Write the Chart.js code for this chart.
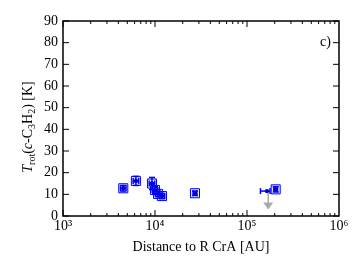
<!DOCTYPE html>
<html>
<head>
<meta charset="utf-8">
<script src="https://cdn.jsdelivr.net/npm/chart.js@4.4.0/dist/chart.umd.min.js"></script>
<style>
  body { margin: 0; background: #fff; }
</style>
</head>
<body>
<canvas id="tempChart" width="353" height="264"></canvas>
<script>
// data
var distance = [4520, 6200, 9270, 10000, 10800, 11900, 27200, 205000];
var temp     = [12.8, 16.2, 15.0, 12.0, 10.2, 9.2, 10.5, 12.3];
var tempErr  = [1.3, 2.1, 2.8, 1.5, 1.3, 1.2, 1.0, 1.2];
var distErr  = [0.03, 0.03, 0.03, 0.03, 0.03, 0.03, 0.02, 0.02]; // dex

// point without square, wide distance range
var wideDist = [165000];
var wideTemp = [11.5];
var wideLo   = [140000];
var wideHi   = [178000];

// upper limit
var limitDist = [170000];
var limitTemp = [10.5];
var limitTo   = [3.0];

var yTicks = [0, 10, 20, 30, 40, 50, 60, 70, 80, 90];
var xTicks = [1e3, 1e4, 1e5, 1e6];
var xTickLabels = ['10\u00B3', '10\u2074', '10\u2075', '10\u2076'];

var serif = '"Liberation Serif", "DejaVu Serif", serif';

var pts = distance.map(function(d, i){ return {x: d, y: temp[i]}; });
var widePts = wideDist.map(function(d, i){ return {x: d, y: wideTemp[i]}; });

var framePlugin = {
  id: 'frame',
  beforeDatasetsDraw: function(chart) {
    var ctx = chart.ctx, xs = chart.scales.x, ys = chart.scales.y;
    ctx.save();
    // error bars
    ctx.strokeStyle = '#0000ff';
    ctx.lineWidth = 1.5;
    function line(x1, y1, x2, y2) {
      ctx.beginPath(); ctx.moveTo(x1, y1); ctx.lineTo(x2, y2); ctx.stroke();
    }
    pts.forEach(function(p, i) {
      var px = xs.getPixelForValue(p.x), py = ys.getPixelForValue(p.y);
      var top = ys.getPixelForValue(p.y + tempErr[i]), bot = ys.getPixelForValue(p.y - tempErr[i]);
      var lx = xs.getPixelForValue(p.x / Math.pow(10, distErr[i])), rx = xs.getPixelForValue(p.x * Math.pow(10, distErr[i]));
      line(px, top, px, bot);
      line(px - 3, top, px + 3, top);
      line(px - 3, bot, px + 3, bot);
      line(lx, py, rx, py);
      line(lx, py - 3, lx, py + 3);
      line(rx, py - 3, rx, py + 3);
    });
    widePts.forEach(function(p, i) {
      var py = ys.getPixelForValue(p.y);
      var lx = xs.getPixelForValue(wideLo[i]), rx = xs.getPixelForValue(wideHi[i]);
      line(lx, py, rx, py);
      line(lx, py - 3, lx, py + 3);
      line(rx, py - 3, rx, py + 3);
    });
    // upper limit arrow
    ctx.strokeStyle = '#aaaaaa';
    ctx.fillStyle = '#aaaaaa';
    limitDist.forEach(function(d, i) {
      var px = xs.getPixelForValue(d);
      var y1 = ys.getPixelForValue(limitTemp[i]), y2 = ys.getPixelForValue(limitTo[i]);
      line(px, y1, px, y2 - 6);
      ctx.beginPath();
      ctx.moveTo(px - 5, y2 - 7);
      ctx.lineTo(px + 5, y2 - 7);
      ctx.lineTo(px, y2);
      ctx.closePath();
      ctx.fill();
    });
    ctx.restore();
  },
  afterDraw: function(chart) {
    var ctx = chart.ctx, a = chart.chartArea, xs = chart.scales.x, ys = chart.scales.y;
    ctx.save();
    ctx.strokeStyle = '#000';
    ctx.lineWidth = 1;
    // inward ticks
    ctx.beginPath();
    yTicks.forEach(function(v) {
      var y = ys.getPixelForValue(v);
      ctx.moveTo(a.left, y); ctx.lineTo(a.left + 6, y);
      ctx.moveTo(a.right, y); ctx.lineTo(a.right - 6, y);
    });
    for (var dec = 3; dec < 6; dec++) {
      for (var m = 1; m < 10; m++) {
        var x = xs.getPixelForValue(m * Math.pow(10, dec));
        var len = m === 1 ? 6 : 3;
        ctx.moveTo(x, a.bottom); ctx.lineTo(x, a.bottom - len);
        ctx.moveTo(x, a.top); ctx.lineTo(x, a.top + len);
      }
    }
    ctx.stroke();
    // frame
    ctx.lineWidth = 1.5;
    ctx.strokeRect(a.left, a.top, a.right - a.left, a.bottom - a.top);

    // panel label
    ctx.fillStyle = '#000';
    ctx.font = '14px ' + serif;
    ctx.textAlign = 'right';
    ctx.textBaseline = 'alphabetic';
    ctx.fillText('c)', a.right - 8, 46);

    // x title
    ctx.textAlign = 'center';
    ctx.fillText('Distance to R CrA [AU]', (a.left + a.right) / 2, 251);

    // y title with subscripts
    var parts = [
      {t: 'T', f: 'italic 14px ' + serif, dy: 0},
      {t: 'rot', f: '10px ' + serif, dy: 3},
      {t: '(', f: '14px ' + serif, dy: 0},
      {t: 'c', f: 'italic 14px ' + serif, dy: 0},
      {t: '-C', f: '14px ' + serif, dy: 0},
      {t: '3', f: '10px ' + serif, dy: 3},
      {t: 'H', f: '14px ' + serif, dy: 0},
      {t: '2', f: '10px ' + serif, dy: 3},
      {t: ') [K]', f: '14px ' + serif, dy: 0}
    ];
    var total = 0;
    parts.forEach(function(p) { ctx.font = p.f; p.w = ctx.measureText(p.t).width; total += p.w; });
    ctx.translate(32, 127);
    ctx.rotate(-Math.PI / 2);
    ctx.textAlign = 'left';
    var cx = -total / 2;
    parts.forEach(function(p) { ctx.font = p.f; ctx.fillText(p.t, cx, p.dy); cx += p.w; });
    ctx.restore();
  }
};

new Chart('tempChart', {
  type: 'scatter',
  data: {
    datasets: [{
      data: pts,
      pointStyle: 'rect',
      pointRadius: 6.4,
      borderColor: '#0000ff',
      backgroundColor: 'rgba(0,0,255,0.1)',
      borderWidth: 1
    }, {
      data: pts.concat(widePts),
      pointStyle: 'circle',
      pointRadius: 2.2,
      borderWidth: 0,
      backgroundColor: '#0000cc'
    }]
  },
  options: {
    responsive: false,
    animation: false,
    events: [],
    layout: { padding: { top: 21, right: 14, left: 0, bottom: 0 } },
    plugins: { legend: { display: false }, tooltip: { enabled: false } },
    scales: {
      x: {
        type: 'logarithmic',
        min: 1e3,
        max: 1e6,
        afterFit: function(s) { s.height = 48; },
        afterBuildTicks: function(s) { s.ticks = xTicks.map(function(v){ return {value: v}; }); },
        grid: { display: false, drawTicks: false },
        border: { display: false },
        ticks: {
          padding: 2,
          maxRotation: 0,
          autoSkip: false,
          color: '#000',
          font: { family: serif, size: 14 },
          callback: function(v) { var i = xTicks.indexOf(v); return i >= 0 ? xTickLabels[i] : ''; }
        }
      },
      y: {
        min: 0,
        max: 90,
        afterFit: function(s) { s.width = 63; },
        afterBuildTicks: function(s) { s.ticks = yTicks.map(function(v){ return {value: v}; }); },
        grid: { display: false, drawTicks: false },
        border: { display: false },
        ticks: {
          padding: 5,
          autoSkip: false,
          color: '#000',
          font: { family: serif, size: 14 }
        }
      }
    }
  },
  plugins: [framePlugin]
});
</script>
</body>
</html>
